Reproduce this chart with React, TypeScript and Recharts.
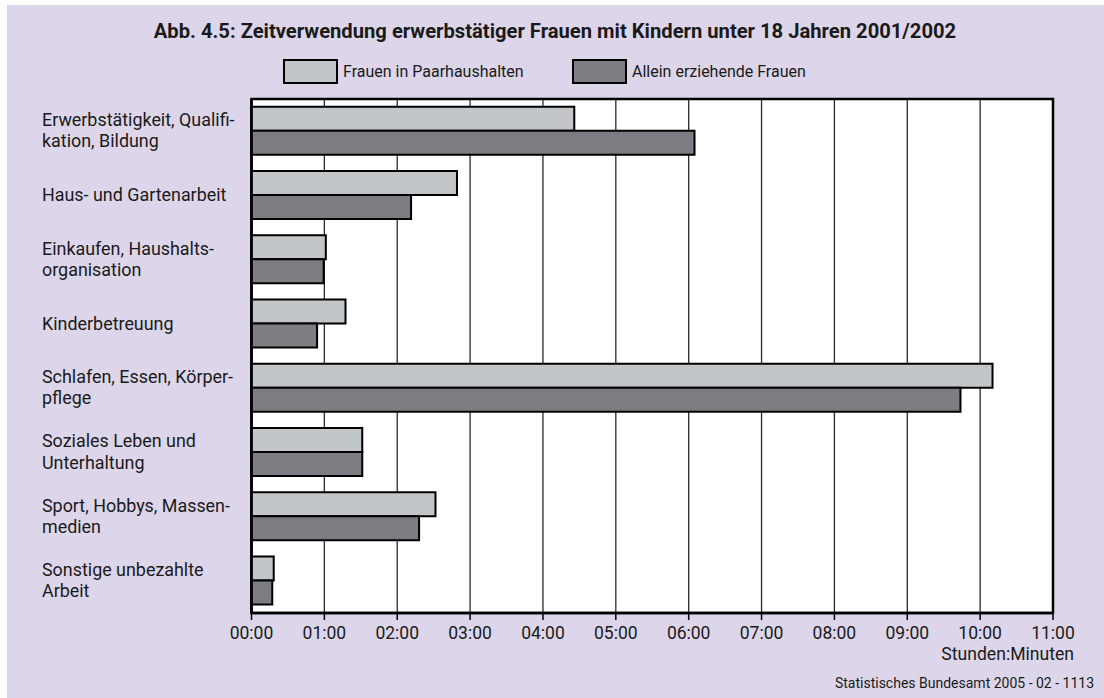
import React from "react";
import {
  BarChart,
  Bar,
  XAxis,
  YAxis,
  CartesianGrid,
  ReferenceArea,
} from "recharts";

const categories: string[] = [
  "Erwerbstätigkeit, Qualifi-\nkation, Bildung",
  "Haus- und Gartenarbeit",
  "Einkaufen, Haushalts-\norganisation",
  "Kinderbetreuung",
  "Schlafen, Essen, Körper-\npflege",
  "Soziales Leben und\nUnterhaltung",
  "Sport, Hobbys, Massen-\nmedien",
  "Sonstige unbezahlte\nArbeit",
];

// hours (decimal)
const paarhaushalte: number[] = [4.43, 2.82, 1.02, 1.29, 10.17, 1.52, 2.525, 0.305];
const alleinerziehend: number[] = [6.08, 2.19, 0.99, 0.9, 9.73, 1.52, 2.3, 0.285];

const xTicks: number[] = [0, 1, 2, 3, 4, 5, 6, 7, 8, 9, 10, 11];

const seriesNames = ["Frauen in Paarhaushalten", "Allein erziehende Frauen"];
const title =
  "Abb. 4.5: Zeitverwendung erwerbstätiger Frauen mit Kindern unter 18 Jahren 2001/2002";
const unitLabel = "Stunden:Minuten";
const source = "Statistisches Bundesamt 2005 - 02 - 1113";

const data = categories.map((c, i) => ({
  name: c,
  paar: paarhaushalte[i],
  allein: alleinerziehend[i],
}));

const LIGHT = "#c3c6c9";
const DARK = "#7c7d82";
const BG = "#ddd6ea";
const FONT = "Roboto, 'Noto Sans', sans-serif";

const fmt = (v: number) => {
  const h = Math.floor(v);
  const m = Math.round((v - h) * 60);
  return `${String(h).padStart(2, "0")}:${String(m).padStart(2, "0")}`;
};

const CatTick = (props: any) => {
  const { y, payload } = props;
  const lines: string[] = String(payload.value).split("\n");
  const first = lines.length === 1 ? y + 6 : y - 5;
  return (
    <text x={42} y={first} fontSize={17.9} fontFamily={FONT} fill="#1a1a1a" textAnchor="start">
      {lines.map((ln, i) => (
        <tspan key={i} x={42} dy={i === 0 ? 0 : 21.2}>
          {ln}
        </tspan>
      ))}
    </text>
  );
};

const XTick = (props: any) => {
  const { x, y, payload } = props;
  return (
    <text x={x} y={y + 16.5} fontSize={17.5} fontFamily={FONT} fill="#1a1a1a" textAnchor="middle">
      {fmt(payload.value)}
    </text>
  );
};

const LegendBox = ({ left, color, label }: { left: number; color: string; label: string }) => (
  <div style={{ position: "absolute", left, top: 59, height: 25, display: "flex", alignItems: "center" }}>
    <div
      style={{
        width: 51,
        height: 21,
        background: color,
        border: "2px solid #000",
      }}
    />
    <span style={{ marginLeft: 5, fontSize: 16, fontFamily: FONT, color: "#1a1a1a", whiteSpace: "nowrap" }}>
      {label}
    </span>
  </div>
);

export default function App() {
  return (
    <div
      style={{
        position: "absolute",
        left: 0,
        top: 0,
        width: 1104,
        height: 698,
        background: "#fff",
        overflow: "hidden",
        fontFamily: FONT,
      }}
    >
      <div style={{ position: "absolute", left: 7, top: 5, width: 1097, height: 693, background: BG }} />
      <div
        style={{
          position: "absolute",
          left: 0,
          width: 1110,
          top: 19,
          textAlign: "center",
          fontSize: 20.2,
          fontWeight: 700,
          color: "#1a1a1a",
          whiteSpace: "nowrap",
        }}
      >
        {title}
      </div>
      <LegendBox left={283} color={LIGHT} label={seriesNames[0]} />
      <LegendBox left={572} color={DARK} label={seriesNames[1]} />
      <div style={{ position: "absolute", left: 0, top: 0 }}>
        <BarChart
          width={1104}
          height={698}
          data={data}
          layout="vertical"
          margin={{ top: 99, right: 51, bottom: 45, left: 0 }}
          barCategoryGap="12%"
          barGap={0}
        >
          <CartesianGrid horizontal={false} vertical stroke="#2a2a2a" strokeWidth={1.3} fill="#fff" />
          <XAxis
            type="number"
            domain={[0, 11]}
            ticks={xTicks}
            tickFormatter={fmt}
            height={40}
            axisLine={{ stroke: "#000", strokeWidth: 2.5 }}
            tickLine={{ stroke: "#000", strokeWidth: 1.5 }}
            tickSize={7}
            tick={<XTick />}
            interval={0}
          />
          <YAxis
            type="category"
            dataKey="name"
            width={251.5}
            axisLine={{ stroke: "#000", strokeWidth: 2.5 }}
            tickLine={false}
            tick={<CatTick />}
            interval={0}
          />
          <Bar dataKey="paar" name={seriesNames[0]} fill={LIGHT} stroke="#000" strokeWidth={2} isAnimationActive={false} />
          <Bar dataKey="allein" name={seriesNames[1]} fill={DARK} stroke="#000" strokeWidth={2} isAnimationActive={false} />
          <ReferenceArea x1={0} x2={11} fill="none" fillOpacity={0} stroke="#000" strokeWidth={2.5} ifOverflow="visible" />
        </BarChart>
      </div>
      <div
        style={{
          position: "absolute",
          right: 30,
          top: 644,
          fontSize: 17.6,
          lineHeight: "normal",
          color: "#1a1a1a",
          whiteSpace: "nowrap",
        }}
      >
        {unitLabel}
      </div>
      <div
        style={{
          position: "absolute",
          right: 10,
          top: 675,
          fontSize: 14,
          color: "#1a1a1a",
          whiteSpace: "nowrap",
        }}
      >
        {source}
      </div>
    </div>
  );
}
